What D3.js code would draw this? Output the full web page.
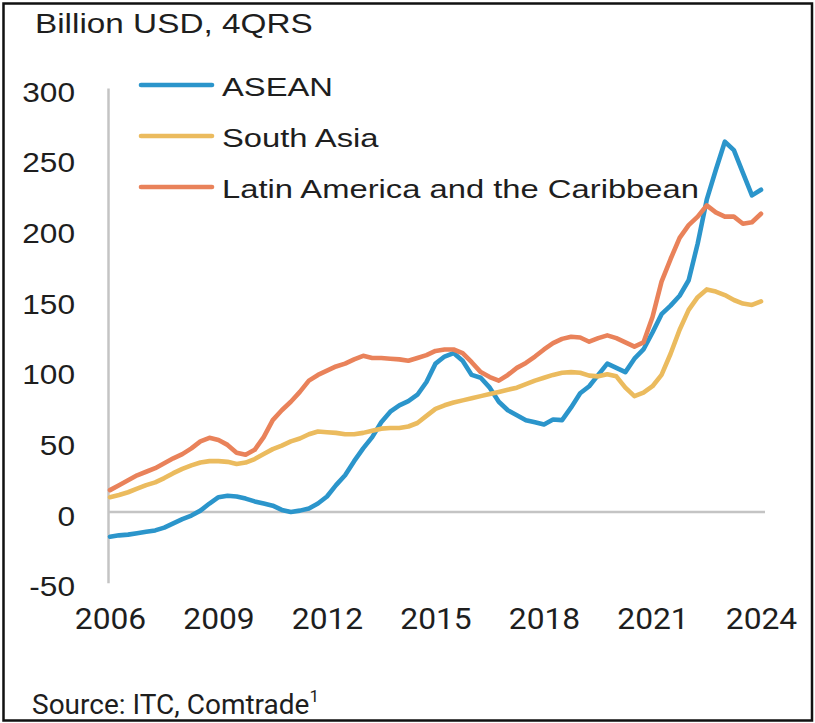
<!DOCTYPE html>
<html>
<head>
<meta charset="utf-8">
<script src="https://cdn.jsdelivr.net/npm/d3@7"></script>
<style>
  html, body { margin: 0; padding: 0; background: #fff; }
  svg { display: block; }
</style>
</head>
<body>
<svg id="chart" width="815" height="723"></svg>
<script>
// Quarterly trade balance, four-quarter rolling sum (billion USD), 2006Q1–2024Q1
const startYear = 2006;
const seriesNames = ["ASEAN", "South Asia", "Latin America and the Caribbean"];
const seriesColors = ["#2b95cb", "#ebbb5e", "#e9825a"];

const asean = [
  -17.5, -16.5, -16, -15,
  -14, -13, -11, -8,
  -5, -2.5, 1, 6,
  10.5, 11.5, 11, 9.5,
  7.5, 6, 4.5, 1.5,
  0, 1, 2.5, 6,
  11, 19, 26, 36,
  45, 53, 63.5, 71,
  75.5, 78.5, 83, 92,
  105, 110, 112.5, 107,
  97, 95, 88, 78,
  72, 68.5, 65, 63.5,
  62, 65.5, 65, 74,
  84, 89, 97, 105,
  102, 99, 108.5, 115,
  127, 140, 146, 153,
  164, 190, 221, 242,
  262, 256, 240, 224,
  228
];

const southAsia = [
  10.5, 12, 14, 16.5,
  19, 21, 24, 27.5,
  30.5, 33, 35, 36,
  36, 35.5, 34, 35,
  37.5, 41, 44.5, 47,
  50, 52, 55, 57,
  56.5, 56, 55, 55,
  56, 57.5, 59, 59.5,
  59.5, 60.5, 63, 68,
  73, 75.5, 77.5, 79,
  80.5, 82, 83.5, 85,
  86.5, 88, 90.5, 93,
  95, 97, 98.5, 99,
  98.5, 96.5, 96, 97.5,
  96, 88, 82, 84.5,
  89, 97, 112, 129,
  143, 152, 157.5, 156,
  153.5, 150, 147.5, 146.5,
  149
];

const latinAmerica = [
  15.5, 19, 22.5, 26,
  28.5, 31, 34.5, 38,
  41, 45, 50, 52.5,
  51, 47.5, 42, 40.5,
  44, 53, 65, 72,
  78, 85, 93, 97,
  100, 103, 105, 108,
  110.5, 109, 109, 108.5,
  108, 107, 109, 111,
  114, 115, 115, 112.5,
  106, 99, 95.5, 93,
  97, 102, 105.5, 110,
  115, 119.5, 122.5, 124,
  123.5, 120.5, 123, 125,
  123, 120, 117, 120,
  138, 163, 179, 194,
  203, 209, 217, 212,
  209, 209, 204, 205,
  211
];

const xTickYears = [2006, 2009, 2012, 2015, 2018, 2021, 2024];
const yTickValues = [-50, 0, 50, 100, 150, 200, 250, 300];
const titleText = "Billion USD, 4QRS";
const sourceText = "Source: ITC, Comtrade";
const sourceNote = "1";

const seriesValues = [asean, southAsia, latinAmerica];
// time of each quarter, in fractional years
const periods = asean.map((_, i) => startYear + i / 4);

const svg = d3.select("#chart");
const sansFont = "'Liberation Sans', Arial, Helvetica, sans-serif";
const robotoFont = "Roboto, 'Liberation Sans', Arial, sans-serif";
const textColor = "#1e1e1e";

const x = d3.scaleLinear().domain([2006, 2024]).range([110, 761]);
const y = d3.scaleLinear().domain([-50, 300]).range([582.7, 88]);

// frame
svg.append("rect")
  .attr("x", 3.5).attr("y", 3.5)
  .attr("width", 808.5).attr("height", 717)
  .attr("fill", "#fff")
  .attr("stroke", "#111").attr("stroke-width", 2.5);

// title
svg.append("text")
  .attr("transform", "translate(35,33) scale(1.19,1)")
  .attr("font-family", sansFont).attr("font-size", 28)
  .attr("fill", textColor)
  .text(titleText);

// y axis
const yAxis = svg.append("g")
  .attr("transform", "translate(108,0)")
  .call(d3.axisLeft(y).tickValues(yTickValues).tickSize(0).tickFormat(d => String(d)));
yAxis.select(".domain").attr("stroke", "#c4c4c4").attr("stroke-width", 2.5);
yAxis.selectAll(".tick text")
  .attr("x", 0).attr("dy", null)
  .attr("transform", "translate(-33,13) scale(1.13,1)")
  .attr("text-anchor", "end")
  .attr("font-family", sansFont).attr("font-size", 28)
  .attr("fill", textColor);

// zero line
svg.append("line")
  .attr("x1", 108).attr("x2", 765)
  .attr("y1", y(0)).attr("y2", y(0))
  .attr("stroke", "#c4c4c4").attr("stroke-width", 2.5);

// x axis labels
const xAxis = svg.append("g")
  .attr("transform", "translate(0,629)")
  .call(d3.axisBottom(x).tickValues(xTickYears).tickSize(0).tickFormat(d3.format("d")));
xAxis.select(".domain").remove();
xAxis.selectAll(".tick text")
  .attr("y", 0).attr("dy", null)
  .attr("font-family", robotoFont).attr("font-size", 30)
  .attr("transform", "scale(1.06,1)")
  .attr("fill", textColor);

// series lines
const line = d3.line()
  .x((d, i) => x(periods[i]))
  .y(d => y(d));

svg.append("g")
  .selectAll("path")
  .data(seriesValues)
  .join("path")
  .attr("d", line)
  .attr("fill", "none")
  .attr("stroke", (d, i) => seriesColors[i])
  .attr("stroke-width", 4.6)
  .attr("stroke-linejoin", "round")
  .attr("stroke-linecap", "round");

// legend
const legend = svg.append("g");
const legendRows = legend.selectAll("g")
  .data(seriesNames)
  .join("g")
  .attr("transform", (d, i) => `translate(0,${85 + i * 51})`);
legendRows.append("line")
  .attr("x1", 141).attr("x2", 212)
  .attr("stroke", (d, i) => seriesColors[i])
  .attr("stroke-width", 4.6)
  .attr("stroke-linecap", "round");
legendRows.append("text")
  .attr("transform", "translate(222,11) scale(1.26,1)")
  .attr("font-family", sansFont).attr("font-size", 26)
  .attr("fill", textColor)
  .text(d => d);

// source note
const source = svg.append("text")
  .attr("x", 32).attr("y", 714)
  .attr("font-family", robotoFont).attr("font-size", 28)
  .attr("fill", textColor);
source.append("tspan").text(sourceText);
source.append("tspan")
  .attr("font-size", 17).attr("dy", -12)
  .text(sourceNote);
</script>
</body>
</html>
